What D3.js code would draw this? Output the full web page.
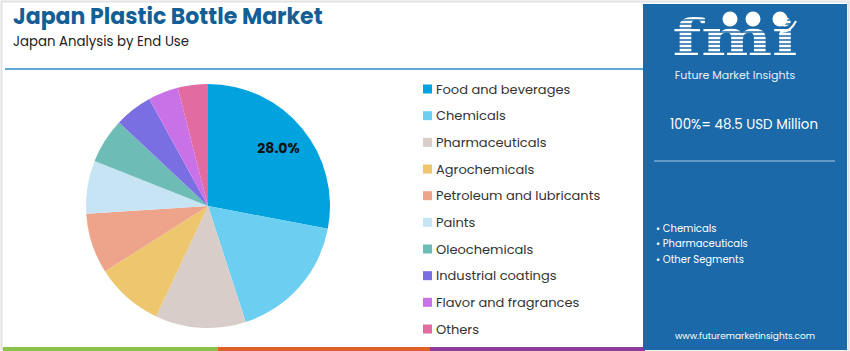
<!DOCTYPE html>
<html>
<head>
<meta charset="utf-8">
<script src="https://cdn.jsdelivr.net/npm/d3@7"></script>
<style>
  body { margin: 0; background: #fff; }
  svg text { font-family: "Poppins", "Inter", "Open Sans", sans-serif; }
</style>
</head>
<body>
<div id="chart"></div>
<script>
// data
var categories = ["Food and beverages", "Chemicals", "Pharmaceuticals", "Agrochemicals",
  "Petroleum and lubricants", "Paints", "Oleochemicals", "Industrial coatings",
  "Flavor and fragrances", "Others"];
var shares = [28.0, 17.0, 12.0, 9.0, 8.0, 7.0, 6.0, 5.0, 4.0, 4.0];
var colors = ["#00a3de", "#6ccff2", "#d8cdc8", "#edc66e", "#eda48b", "#c6e4f3",
  "#6dbcb6", "#7a6fe2", "#c972e8", "#e26ba2"];
var bullets = ["Chemicals", "Pharmaceuticals", "Other Segments"];
var totalLabel = "100%= 48.5 USD Million";

var W = 850, H = 351;
var svg = d3.select("#chart").append("svg")
  .attr("width", W).attr("height", H);

// frame
svg.append("rect").attr("x", 1.5).attr("y", 1.5).attr("width", W - 3).attr("height", H - 3)
  .attr("fill", "#fff").attr("stroke", "#e2e2e2").attr("stroke-width", 2);

// title block
svg.append("text").attr("x", 13).attr("y", 24)
  .attr("font-size", 22).attr("font-weight", 700).attr("fill", "#135f95")
  .text("Japan Plastic Bottle Market");
svg.append("text").attr("x", 13).attr("y", 46)
  .attr("font-size", 13.3).attr("fill", "#222")
  .text("Japan Analysis by End Use");
svg.append("line").attr("x1", 5).attr("x2", 643).attr("y1", 69).attr("y2", 69)
  .attr("stroke", "#2d8ac6").attr("stroke-width", 1.5);

// bottom stripes
var stripes = [[3, 218, "#8bc34a"], [218, 430, "#e0602a"], [430, 645, "#8e3c9c"]];
svg.selectAll(".stripe").data(stripes).enter().append("rect")
  .attr("x", d => d[0]).attr("width", d => d[1] - d[0])
  .attr("y", 347).attr("height", 4).attr("fill", d => d[2]);

// pie
var cx = 208, cy = 206, r = 122;
var pie = d3.pie().sort(null).value(d => d);
var arc = d3.arc().innerRadius(0).outerRadius(r);
var g = svg.append("g").attr("transform", "translate(" + cx + "," + cy + ")");
var arcs = pie(shares);
g.selectAll("path").data(arcs).enter().append("path")
  .attr("d", arc).attr("fill", (d, i) => colors[i]);

var labelArc = d3.arc().innerRadius(r * 0.75).outerRadius(r * 0.75);
g.append("text")
  .attr("transform", "translate(" + labelArc.centroid(arcs[0]) + ")")
  .attr("text-anchor", "middle").attr("dy", "0.35em")
  .attr("font-size", 14).attr("font-weight", 700).attr("fill", "#111")
  .text(shares[0].toFixed(1) + "%");

// legend
var ly = d3.scalePoint().domain(categories).range([89, 329]);
var leg = svg.append("g");
leg.selectAll("rect").data(categories).enter().append("rect")
  .attr("x", 423).attr("y", d => ly(d) - 4.5).attr("width", 9).attr("height", 9)
  .attr("fill", (d, i) => colors[i]);
leg.selectAll("text").data(categories).enter().append("text")
  .attr("x", 436).attr("y", d => ly(d)).attr("dy", "0.35em")
  .attr("font-size", 13).attr("fill", "#333")
  .text(d => d);

// right panel
var px = 643, pw = 204;
svg.append("rect").attr("x", px).attr("y", 4).attr("width", pw).attr("height", 346)
  .attr("fill", "#1b69a8");

// logo
var logo = svg.append("g");
logo.append("text").attr("x", 735).attr("y", 55).attr("text-anchor", "middle")
  .attr("font-size", 50).attr("font-weight", 700)
  .style("font-family", "'DejaVu Serif', serif").attr("fill", "#fff")
  .attr("textLength", 125).attr("lengthAdjust", "spacingAndGlyphs")
  .text("fmi");
logo.selectAll("line").data(d3.range(20, 58, 4)).enter().append("line")
  .attr("x1", 668).attr("x2", 800).attr("y1", d => d).attr("y2", d => d)
  .attr("stroke", "#1b69a8").attr("stroke-width", 1.3);
logo.selectAll("circle").data([730, 753, 780]).enter().append("circle")
  .attr("cx", d => d).attr("cy", 19).attr("r", 7.5).attr("fill", "#fff");
logo.append("path").attr("d", "M796,21 Q790,33 780,32")
  .attr("fill", "none").attr("stroke", "#fff").attr("stroke-width", 2);
svg.append("text").attr("x", 735).attr("y", 79).attr("text-anchor", "middle")
  .attr("font-size", 11).attr("fill", "#e8f0f8")
  .text("Future Market Insights");

svg.append("text").attr("x", 744).attr("y", 129).attr("text-anchor", "middle")
  .attr("font-size", 13.4).attr("fill", "#fff")
  .text(totalLabel);
svg.append("line").attr("x1", 654).attr("x2", 835).attr("y1", 161).attr("y2", 161)
  .attr("stroke", "#a9cbe6").attr("stroke-width", 1.2);

var by = d3.scalePoint().domain(bullets).range([228, 259]);
svg.selectAll(".bul").data(bullets).enter().append("text")
  .attr("x", 656).attr("y", d => by(d)).attr("dy", "0.35em")
  .attr("font-size", 10).attr("fill", "#fff")
  .text(d => "\u2022 " + d);

svg.append("text").attr("x", 745).attr("y", 339).attr("text-anchor", "middle")
  .attr("font-size", 9).attr("fill", "#fff")
  .text("www.futuremarketinsights.com");
</script>
</body>
</html>
